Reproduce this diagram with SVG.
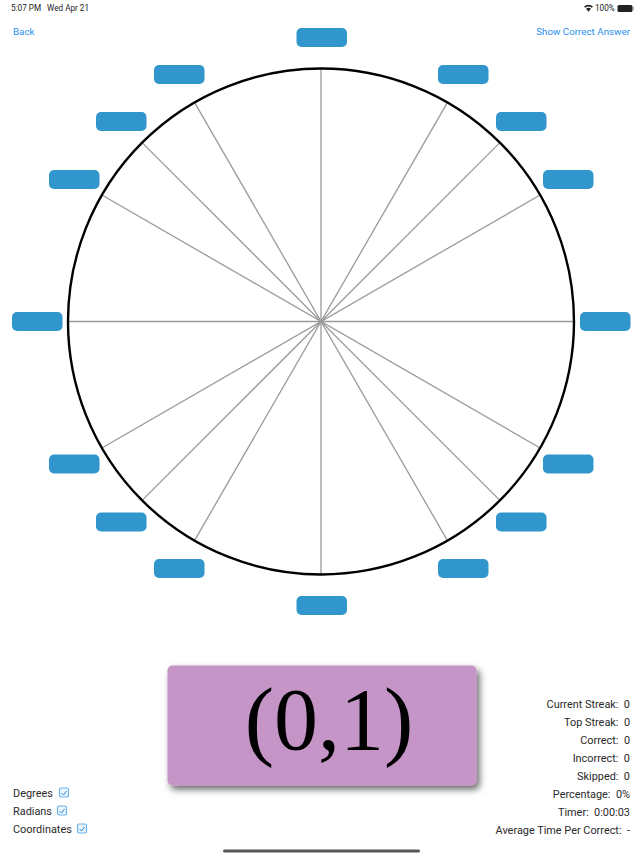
<svg xmlns="http://www.w3.org/2000/svg" width="643" height="858" viewBox="0 0 643 858">
<style>
text{font-family:"Roboto","Liberation Sans",sans-serif;white-space:pre}
.s{font-size:8.2px;fill:#222}
.l{font-size:9.8px;fill:#2a90ee}
.d{font-size:10.9px;fill:#2a2a2a}
.r{text-anchor:end}
.b{fill:#3196cb}
.sp{stroke:#9a9a9a;stroke-width:1.3;fill:none}
.cb{fill:#eaf4fd;stroke:#6db2ee;stroke-width:1.2}
.ck{fill:none;stroke:#2b86d8;stroke-width:1}
</style>
<defs>
<filter id="sh" x="-10%" y="-20%" width="120%" height="140%"><feDropShadow dx="3" dy="4" stdDeviation="3.5" flood-color="#000" flood-opacity="0.6"/></filter>
<rect id="btn" width="50.5" height="19" rx="5" class="b"/>
</defs>
<rect width="643" height="858" fill="#fff"/>
<g id="status">
<text class="s" x="11" y="11">5:07 PM</text><text class="s" x="47" y="11">Wed Apr 21</text>
<path d="M584 6.500a7 7 0 0 1 9 0l-1.200 1.300a5.200 5.200 0 0 0-6.600 0zM586 8.800a4 4 0 0 1 5 0l-2.500 3z" fill="#222"/>
<text class="s" x="595" y="11">100%</text>
<rect x="617.500" y="5" width="15" height="7" rx="1.500" fill="#222"/><rect x="633" y="7" width="1" height="3" fill="#aaa"/>
</g>
<g id="connectors">
<g class="sp">
<line x1="321" y1="68" x2="321" y2="575"/>
<line x1="68" y1="321.500" x2="574" y2="321.500"/>
<line x1="194.500" y1="102.400" x2="447.500" y2="540.600"/>
<line x1="447.500" y1="102.400" x2="194.500" y2="540.600"/>
<line x1="142.100" y1="142.600" x2="499.900" y2="500.400"/>
<line x1="499.900" y1="142.600" x2="142.100" y2="500.400"/>
<line x1="101.900" y1="195" x2="540.100" y2="448"/>
<line x1="540.100" y1="195" x2="101.900" y2="448"/>
</g>
<circle cx="321" cy="321.500" r="253" fill="none" stroke="#000" stroke-width="2.400"/>
</g>
<g id="n90"><use href="#btn" x="296.500" y="28"/></g>
<g id="n60"><use href="#btn" x="438" y="65"/></g>
<g id="n45"><use href="#btn" x="496" y="112"/></g>
<g id="n30"><use href="#btn" x="543" y="170"/></g>
<g id="n0"><use href="#btn" x="580" y="312"/></g>
<g id="n330"><use href="#btn" x="543" y="454.500"/></g>
<g id="n315"><use href="#btn" x="496" y="512.500"/></g>
<g id="n300"><use href="#btn" x="438" y="559"/></g>
<g id="n270"><use href="#btn" x="296.500" y="596"/></g>
<g id="n240"><use href="#btn" x="154" y="559"/></g>
<g id="n225"><use href="#btn" x="96" y="512.500"/></g>
<g id="n210"><use href="#btn" x="49" y="454.500"/></g>
<g id="n180"><use href="#btn" x="12" y="312"/></g>
<g id="n150"><use href="#btn" x="49" y="170"/></g>
<g id="n135"><use href="#btn" x="96" y="112"/></g>
<g id="n120"><use href="#btn" x="154" y="65"/></g>
<g id="back"><text class="l" x="13" y="35">Back</text></g>
<g id="show"><text class="l r" x="630" y="35">Show Correct Answer</text></g>
<g id="card">
<rect x="167.500" y="665.500" width="309" height="120" rx="5" fill="#c595c7" filter="url(#sh)"/>
<text x="329" y="748.500" text-anchor="middle" style="font-family:'Liberation Serif',serif" font-size="88" fill="#000">(0,1)</text>
</g>
<g id="opt-degrees"><text class="d" x="13" y="797">Degrees</text><rect class="cb" x="59.500" y="788" width="9" height="9" rx="1.500"/><path class="ck" d="M61.500 793l2 2 3-4"/></g>
<g id="opt-radians"><text class="d" x="13" y="815">Radians</text><rect class="cb" x="57.500" y="806" width="9" height="9" rx="1.500"/><path class="ck" d="M59.500 811l2 2 3-4"/></g>
<g id="opt-coordinates"><text class="d" x="13" y="833">Coordinates</text><rect class="cb" x="77.500" y="824" width="9" height="9" rx="1.500"/><path class="ck" d="M79.500 829l2 2 3-4"/></g>
<g id="stats">
<text class="d r" x="630" y="708">Current Streak:  0</text>
<text class="d r" x="630" y="726">Top Streak:  0</text>
<text class="d r" x="630" y="744">Correct:  0</text>
<text class="d r" x="630" y="762">Incorrect:  0</text>
<text class="d r" x="630" y="780">Skipped:  0</text>
<text class="d r" x="630" y="798">Percentage:  0%</text>
<text class="d r" x="630" y="816">Timer:  0:00:03</text>
<text class="d r" x="630" y="834">Average Time Per Correct:  -</text>
</g>
<rect id="home" x="223" y="849.500" width="197" height="3" rx="1.500" fill="#555"/>
</svg>
